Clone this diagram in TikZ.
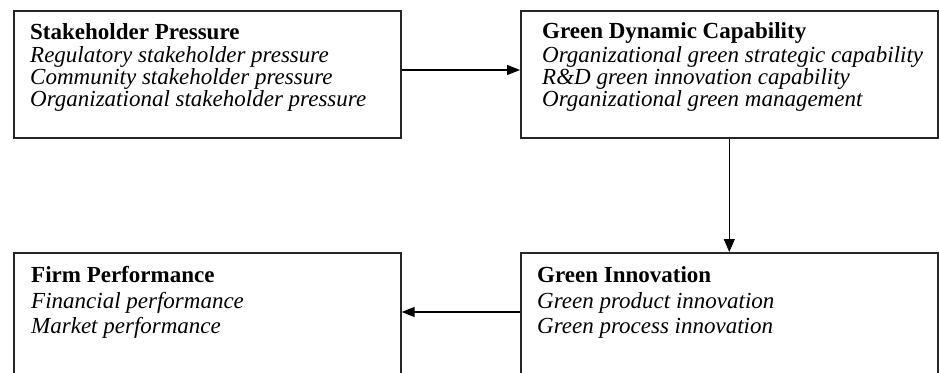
\documentclass[tikz,border=0pt]{standalone}
\usepackage{fontspec}
\setmainfont{Liberation Serif}
\usetikzlibrary{arrows.meta}
\begin{document}
\begin{tikzpicture}[x=1pt,y=-1pt,
  box/.style={draw=black!85,line width=1.6pt,inner sep=0pt,anchor=north west},
  ttl/.style={anchor=base west,inner sep=0pt,font=\fontsize{23}{23}\selectfont\bfseries},
  itm/.style={anchor=base west,inner sep=0pt,font=\fontsize{23}{23}\selectfont\itshape},
  arr/.style={line width=1.3pt,-{Triangle[length=13pt,width=10pt]}},
  varr/.style={line width=0.8pt,-{Triangle[length=13pt,width=11pt]}}]
\clip (0,0) rectangle (939,372);
\fill[white] (0,0) rectangle (939,372);
% boxes
\node[box,minimum width=387pt,minimum height=127pt] (A) at (13,10) {};
\node[box,minimum width=417pt,minimum height=127pt] (B) at (520,10) {};
\node[box,minimum width=387pt,minimum height=160pt] (C) at (13,252) {};
\node[box,minimum width=417pt,minimum height=160pt] (D) at (520,252) {};
% texts
\node[ttl] (a0) at (30,39) {Stakeholder Pressure};
\node[itm] (a1) at (30,62) {Regulatory stakeholder pressure};
\node[itm] (a2) at (30,84) {Community stakeholder pressure};
\node[itm] (a3) at (30,106) {Organizational stakeholder pressure};
\node[ttl] (b0) at (542,38) {Green Dynamic Capability};
\node[itm] (b1) at (542,62) {Organizational green strategic capability};
\node[itm] (b2) at (542,84) {R\&D green innovation capability};
\node[itm] (b3) at (542,106) {Organizational green management};
\node[ttl] (c0) at (31,282) {Firm Performance};
\node[itm] (c1) at (31,308) {Financial performance};
\node[itm] (c2) at (31,333) {Market performance};
\node[ttl] (d0) at (537,282) {Green Innovation};
\node[itm] (d1) at (537,308) {Green product innovation};
\node[itm] (d2) at (537,333) {Green process innovation};
% connectors
\draw[arr] ([yshift=-60pt]A.north east) -- ([yshift=-60pt]B.north west);
\draw[varr] (B.south) -- (B.south |- D.north);
\draw[arr] ([yshift=-60pt]D.north west) -- ([yshift=-60pt]C.north east);
\end{tikzpicture}
\end{document}
